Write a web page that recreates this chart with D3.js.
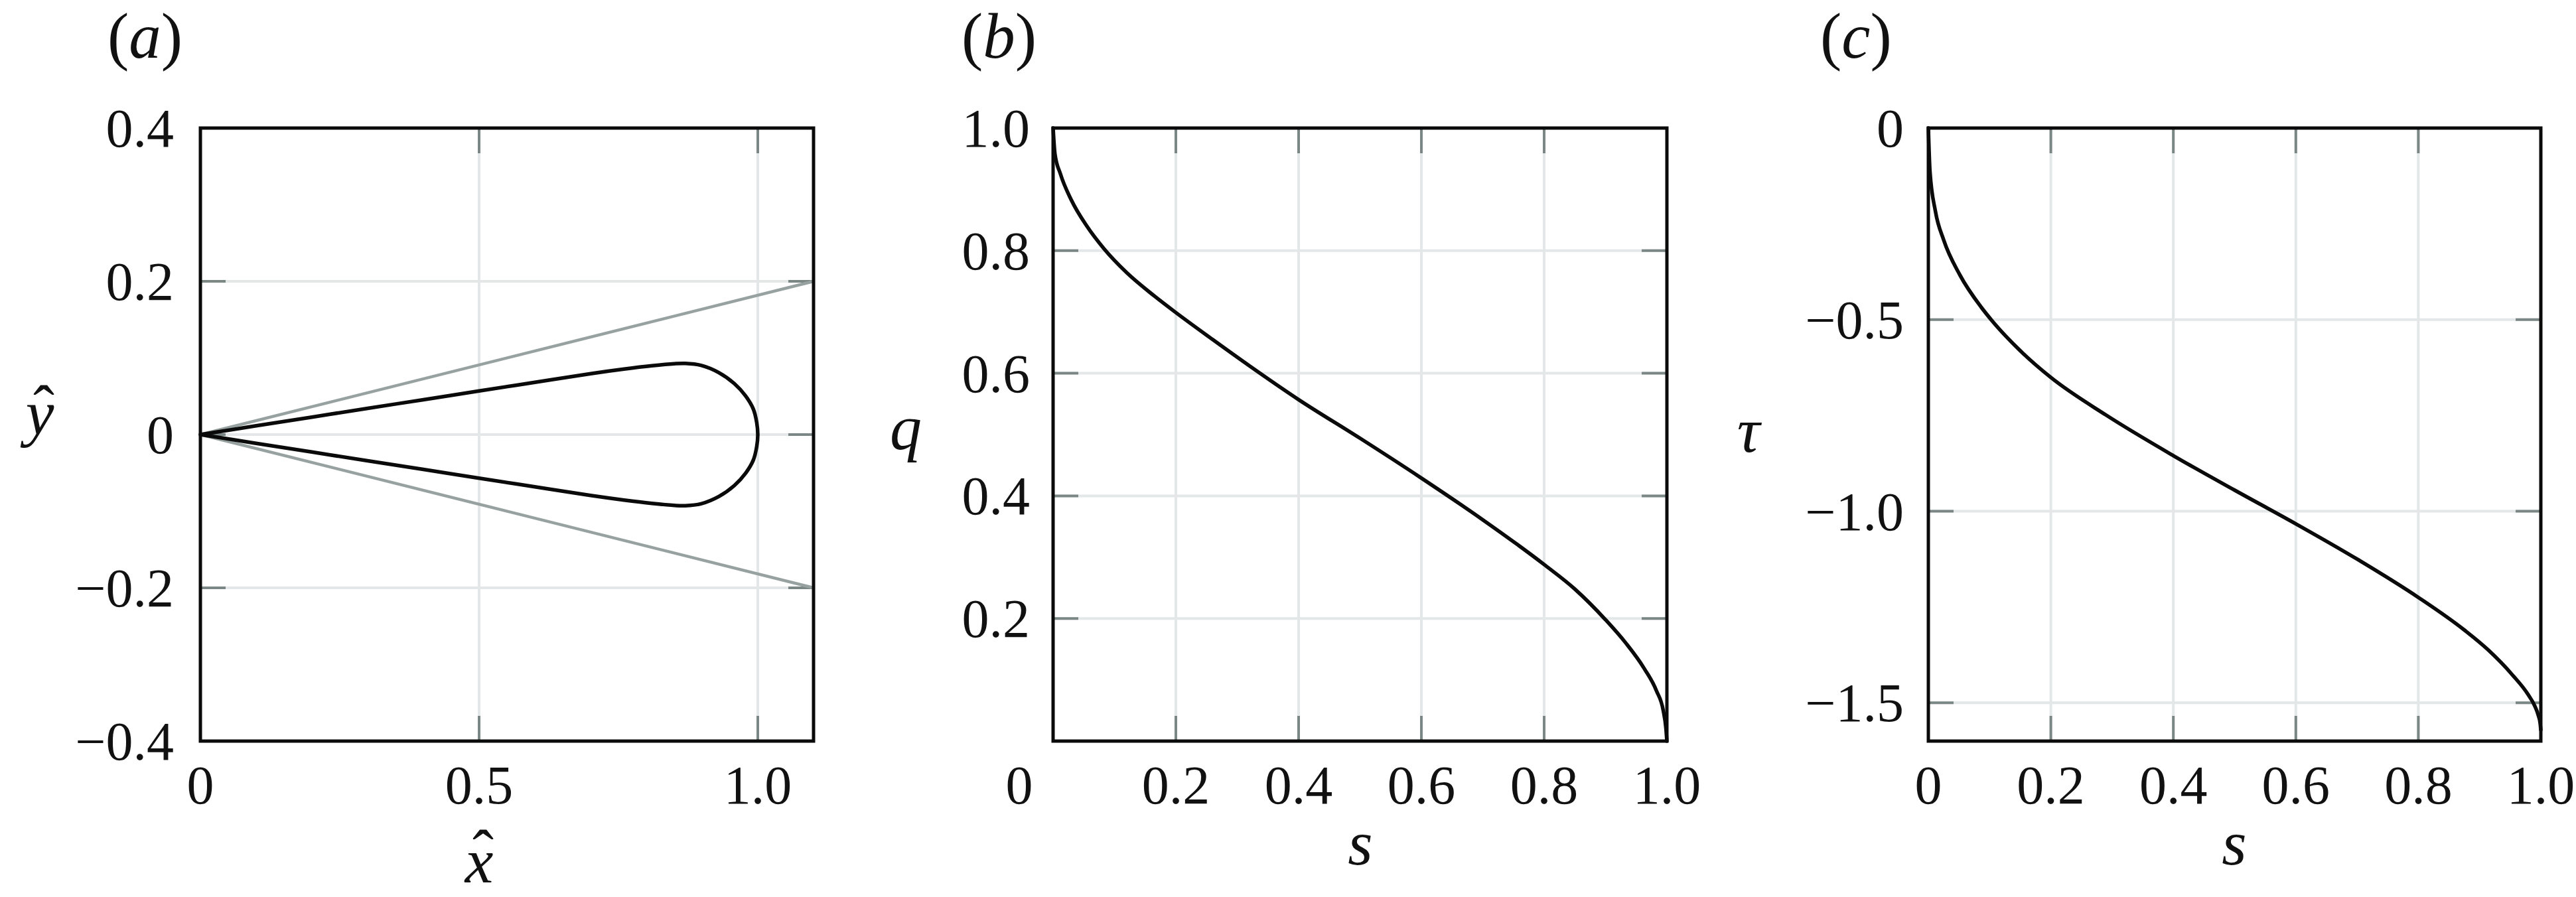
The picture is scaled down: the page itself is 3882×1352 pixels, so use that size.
<!DOCTYPE html>
<html><head><meta charset="utf-8">
<script src="https://cdn.jsdelivr.net/npm/d3@7"></script>
<style>body{margin:0;background:#fff} svg{display:block} text{font-family:"Liberation Serif","Times New Roman",serif}</style>
</head><body>
<svg id="chart" width="3882" height="1352"></svg>
<script>
// ---------- DATA ----------
// Panel (a): wedge edges (grey)
const wedgeX = [0, 1.1];
const wedgeUpperY = [0, 0.2];
const wedgeLowerY = [0, -0.2];
// Panel (a): body contour (black), traced from origin along upper side to tip and back
const shapeX = [0, 0.1, 0.2, 0.3, 0.4, 0.5, 0.6, 0.7, 0.76, 0.81, 0.85, 0.87, 0.898, 0.93, 0.958, 0.978, 0.992, 0.998, 1.0,
                0.998, 0.992, 0.978, 0.958, 0.93, 0.898, 0.87, 0.85, 0.81, 0.76, 0.7, 0.6, 0.5, 0.4, 0.3, 0.2, 0.1, 0];
const shapeY = [0, 0.0114, 0.0228, 0.0342, 0.0455, 0.0569, 0.0682, 0.0795, 0.0855, 0.0898, 0.0924, 0.0928, 0.0903, 0.0808, 0.0664, 0.0505, 0.0332, 0.0159, 0,
                -0.0159, -0.0332, -0.0505, -0.0664, -0.0808, -0.0903, -0.0928, -0.0924, -0.0898, -0.0855, -0.0795, -0.0682, -0.0569, -0.0455, -0.0342, -0.0228, -0.0114, 0];
// Panel (b): q(s)
const qS =    [0, 0.003, 0.012, 0.03, 0.055, 0.083, 0.12, 0.165, 0.2, 0.26, 0.32, 0.4, 0.5, 0.6, 0.7, 0.8, 0.85, 0.9, 0.933, 0.962, 0.983, 0.994, 0.9985, 1];
const qVals = [1, 0.958, 0.925, 0.882, 0.840, 0.803, 0.764, 0.726, 0.699, 0.655, 0.612, 0.557, 0.494, 0.429, 0.361, 0.288, 0.248, 0.198, 0.160, 0.120, 0.082, 0.050, 0.020, 0];
// Panel (c): tau(s)
const tauS =    [0, 0.0026, 0.0115, 0.025, 0.051, 0.0865, 0.104, 0.148, 0.2, 0.29, 0.4, 0.5, 0.6, 0.7, 0.8, 0.875, 0.914, 0.954, 0.979, 0.99, 0.9957, 0.999, 1];
const tauVals = [0, -0.112, -0.217, -0.292, -0.382, -0.468, -0.503, -0.578, -0.651, -0.749, -0.855, -0.945, -1.033, -1.125, -1.225, -1.310, -1.362, -1.428, -1.478, -1.508, -1.532, -1.555, -1.571];

// Ticks / labels
const aXTicks = [0, 0.5, 1.0];       const aXLabels = ["0", "0.5", "1.0"];
const aYTicks = [0.4, 0.2, 0, -0.2, -0.4]; const aYLabels = ["0.4", "0.2", "0", "\u22120.2", "\u22120.4"];
const bXTicks = [0, 0.2, 0.4, 0.6, 0.8, 1.0]; const bXLabels = ["0", "0.2", "0.4", "0.6", "0.8", "1.0"];
const bYTicks = [0.2, 0.4, 0.6, 0.8, 1.0];    const bYLabels = ["0.2", "0.4", "0.6", "0.8", "1.0"];
const cXTicks = [0, 0.2, 0.4, 0.6, 0.8, 1.0]; const cXLabels = ["0", "0.2", "0.4", "0.6", "0.8", "1.0"];
const cYTicks = [0, -0.5, -1.0, -1.5];        const cYLabels = ["0", "\u22120.5", "\u22121.0", "\u22121.5"];

// ---------- LAYOUT / STYLE ----------
const svg = d3.select("#chart");
const GRID = "#e3e7e7", TICK = "#7b8785", FRAME = "#0a0a0a", WEDGE = "#97a19f";
const plotTop = 193, plotBottom = 1117, tickLen = 38;

function panel(cfg) {
  const x = d3.scaleLinear().domain(cfg.xDomain).range([cfg.left, cfg.right]);
  const y = d3.scaleLinear().domain(cfg.yDomain).range([plotBottom, plotTop]);
  const g = svg.append("g");
  g.selectAll(".gx").data(cfg.xGrid).enter().append("line")
    .attr("x1", d => x(d)).attr("x2", d => x(d)).attr("y1", plotTop).attr("y2", plotBottom)
    .attr("stroke", GRID).attr("stroke-width", 4);
  g.selectAll(".gy").data(cfg.yGrid).enter().append("line")
    .attr("y1", d => y(d)).attr("y2", d => y(d)).attr("x1", cfg.left).attr("x2", cfg.right)
    .attr("stroke", GRID).attr("stroke-width", 4);
  cfg.xGrid.forEach(v => {
    g.append("line").attr("x1", x(v)).attr("x2", x(v)).attr("y1", plotTop).attr("y2", plotTop + tickLen).attr("stroke", TICK).attr("stroke-width", 4);
    g.append("line").attr("x1", x(v)).attr("x2", x(v)).attr("y1", plotBottom).attr("y2", plotBottom - tickLen).attr("stroke", TICK).attr("stroke-width", 4);
  });
  cfg.yGrid.forEach(v => {
    g.append("line").attr("y1", y(v)).attr("y2", y(v)).attr("x1", cfg.left).attr("x2", cfg.left + tickLen).attr("stroke", TICK).attr("stroke-width", 4);
    g.append("line").attr("y1", y(v)).attr("y2", y(v)).attr("x1", cfg.right).attr("x2", cfg.right - tickLen).attr("stroke", TICK).attr("stroke-width", 4);
  });
  cfg.series.forEach(s => {
    const pts = s.xs.map((v, i) => [x(v), y(s.ys[i])]);
    g.append("path").attr("d", d3.line().curve(s.curve || d3.curveLinear)(pts))
      .attr("fill", "none").attr("stroke", s.color).attr("stroke-width", s.width)
      .attr("stroke-linejoin", "round").attr("stroke-linecap", "round");
  });
  g.append("rect").attr("x", cfg.left).attr("y", plotTop).attr("width", cfg.right - cfg.left).attr("height", plotBottom - plotTop)
    .attr("fill", "none").attr("stroke", FRAME).attr("stroke-width", 5);
  cfg.xTicks.forEach((v, i) => {
    g.append("text").attr("x", x(v) + ((cfg.xLabelShift && cfg.xLabelShift[i]) || 0)).attr("y", 1211)
      .attr("text-anchor", "middle").attr("font-size", 82).attr("fill", "#111")
      .text(cfg.xLabels[i]);
  });
  cfg.yTicks.forEach((v, i) => {
    g.append("text").attr("x", cfg.left - cfg.yLabelGap).attr("y", y(v) + 28)
      .attr("text-anchor", "end").attr("font-size", 82).attr("fill", "#111")
      .text(cfg.yLabels[i]);
  });
  const pl = g.append("text").attr("x", cfg.tagX).attr("y", 87).attr("font-size", 97).attr("fill", "#111");
  pl.append("tspan").text("(");
  pl.append("tspan").attr("font-style", "italic").text(cfg.tag);
  pl.append("tspan").text(")");
  return {x, y, g};
}

function axisLabel(txt, cx, by, hat, hatDx, hatBy) {
  const t = svg.append("text").attr("x", cx).attr("y", by).attr("text-anchor", "middle")
    .attr("font-size", 96).attr("fill", "#111");
  t.append("tspan").attr("font-style", "italic").text(txt);
  if (hat) {
    t.append("tspan").attr("x", cx + hatDx).attr("y", hatBy).text("\u02C6");
  }
}

// Panel (a)
panel({
  left: 302, right: 1226, xDomain: [0, 1.1], yDomain: [-0.4, 0.4],
  xGrid: [0.5, 1.0], yGrid: [0.2, 0, -0.2],
  xTicks: aXTicks, xLabels: aXLabels, yTicks: aYTicks, yLabels: aYLabels, yLabelGap: 40,
  tag: "a", tagX: 162,
  series: [
    {xs: wedgeX, ys: wedgeUpperY, color: WEDGE, width: 4.5},
    {xs: wedgeX, ys: wedgeLowerY, color: WEDGE, width: 4.5},
    {xs: shapeX, ys: shapeY, color: FRAME, width: 5.5, curve: d3.curveCatmullRom.alpha(0.5)}
  ]
});
axisLabel("x", 722, 1330, true, 6, 1317);
axisLabel("y", 60, 655, true, 6, 647);

// Panel (b)
panel({
  left: 1587, right: 2512, xDomain: [0, 1], yDomain: [0, 1],
  xGrid: [0.2, 0.4, 0.6, 0.8], yGrid: [0.2, 0.4, 0.6, 0.8],
  xTicks: bXTicks, xLabels: bXLabels, xLabelShift: [-51, 0, 0, 0, 0, 0],
  yTicks: bYTicks, yLabels: bYLabels, yLabelGap: 35,
  tag: "b", tagX: 1449,
  series: [{xs: qS, ys: qVals, color: FRAME, width: 5.5, curve: d3.curveMonotoneX}]
});
axisLabel("q", 1365, 677, false);
axisLabel("s", 2050, 1303, false);

// Panel (c)
panel({
  left: 2906, right: 3829, xDomain: [0, 1], yDomain: [-1.6, 0],
  xGrid: [0.2, 0.4, 0.6, 0.8], yGrid: [-0.5, -1.0, -1.5],
  xTicks: cXTicks, xLabels: cXLabels, yTicks: cYTicks, yLabels: cYLabels, yLabelGap: 37,
  tag: "c", tagX: 2743,
  series: [{xs: tauS, ys: tauVals, color: FRAME, width: 5.5, curve: d3.curveMonotoneX}]
});
axisLabel("\u03C4", 2635, 681, false);
axisLabel("s", 3367, 1303, false);
</script>
</body></html>
